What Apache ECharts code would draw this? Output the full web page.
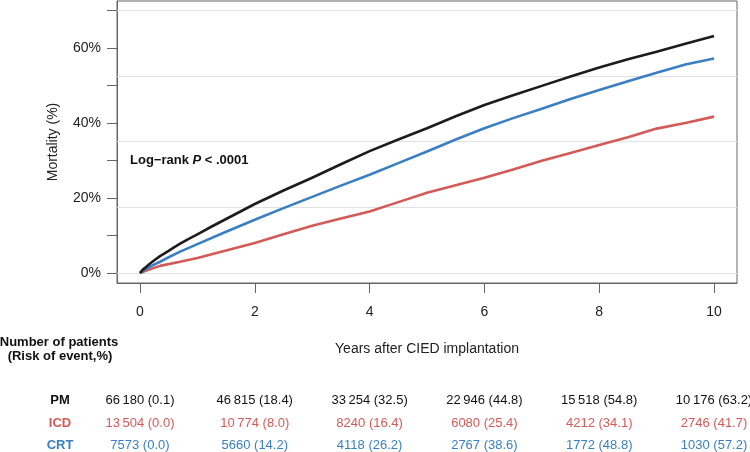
<!DOCTYPE html>
<html>
<head>
<meta charset="utf-8">
<script src="https://cdn.jsdelivr.net/npm/echarts@6/dist/echarts.min.js"></script>
<style>
    html, body { margin: 0; padding: 0; background: #fff; }
    #main { width: 750px; height: 452px; }
</style>
</head>
<body>
<div id="main"></div>
<script>
// 数据
let pmYears = [0, 0.05, 0.1, 0.15, 0.25, 0.35, 0.5, 0.6, 0.7, 0.85, 1, 1.25, 1.5, 2, 2.5, 3, 3.5, 4, 4.5, 5, 5.5, 6, 6.5, 7, 7.5, 8, 8.5, 9, 9.5, 10]
let pmRisk = [0, 0.9, 1.5, 2.2, 3.4, 4.5, 5.9, 6.9, 7.8, 9.1, 10.3, 12.4, 14.4, 18.4, 22.0, 25.4, 29.0, 32.5, 35.6, 38.6, 41.8, 44.8, 47.4, 49.9, 52.4, 54.8, 57.0, 59.0, 61.1, 63.2]
let crtYears = [0, 0.1, 0.2, 0.35, 0.5, 0.7, 1, 1.5, 2, 2.5, 3, 3.5, 4, 4.5, 5, 5.5, 6, 6.5, 7, 7.5, 8, 8.5, 9, 9.5, 10]
let crtRisk = [0, 1.0, 1.9, 3.0, 4.2, 5.7, 7.7, 11.0, 14.2, 17.3, 20.3, 23.3, 26.2, 29.3, 32.4, 35.6, 38.6, 41.3, 43.8, 46.4, 48.8, 51.1, 53.4, 55.6, 57.2]
let icdYears = [0, 0.1, 0.35, 0.7, 1, 1.5, 2, 2.5, 3, 3.5, 4, 4.5, 5, 5.5, 6, 6.5, 7, 7.5, 8, 8.5, 9, 9.5, 10]
let icdRisk = [0, 0.6, 1.9, 3.0, 4.0, 6.0, 8.0, 10.3, 12.6, 14.5, 16.4, 18.9, 21.4, 23.4, 25.4, 27.6, 29.9, 32.0, 34.1, 36.2, 38.5, 40.0, 41.7]

// 风险表
let tableYears = [0, 2, 4, 6, 8, 10]
let pmAtRisk = [66180, 46815, 33254, 22946, 15518, 10176]
let pmEvent = [0.1, 18.4, 32.5, 44.8, 54.8, 63.2]
let icdAtRisk = [13504, 10774, 8240, 6080, 4212, 2746]
let icdEvent = [0.0, 8.0, 16.4, 25.4, 34.1, 41.7]
let crtAtRisk = [7573, 5660, 4118, 2767, 1772, 1030]
let crtEvent = [0.0, 14.2, 26.2, 38.6, 48.8, 57.2]

// 坐标轴刻度
let xTicks = [0, 2, 4, 6, 8, 10]
let yTicks = [0, 10, 20, 30, 40, 50, 60, 70]
let yLabels = [0, 20, 40, 60]
let gridLines = [0, 17.5, 35, 52.5, 70]

let colorPM = '#1c1c1c'
let colorICD = '#d45a57'
let colorCRT = '#3a7fc1'
let fontFamily = '"Liberation Sans", Arial, Helvetica, sans-serif'

function pairs(xs, ys) {
    return xs.map(function (x, i) { return [x, ys[i]] })
}
function fmtCount(n) {
    let s = String(n)
    if (n >= 10000) {
        s = s.slice(0, s.length - 3) + '\u2009' + s.slice(s.length - 3)
    }
    return s
}

let chart = echarts.init(document.getElementById('main'))

let lineStyleBase = { width: 2.6, join: 'round' }
let option = {
    animation: false,
    backgroundColor: '#fff',
    textStyle: { fontFamily: fontFamily },
    grid: {
        left: 117, right: 13, top: 1, bottom: 169,
        show: true, borderColor: '#666', borderWidth: 1
    },
    xAxis: {
        type: 'value',
        min: -0.4, max: 10.4,
        axisLine: { show: true, onZero: false, lineStyle: { color: '#666', width: 1 } },
        axisTick: { show: true, length: 10, customValues: xTicks, lineStyle: { color: '#666' } },
        axisLabel: { customValues: xTicks, margin: 22, fontSize: 14, color: '#222', fontFamily: fontFamily },
        splitLine: { show: false }
    },
    yAxis: {
        type: 'value',
        min: -2.67, max: 72.53,
        axisLine: { show: true, onZero: false, lineStyle: { color: '#666', width: 1 } },
        axisTick: { show: true, length: 10, customValues: yTicks, lineStyle: { color: '#666' } },
        axisLabel: {
            customValues: yLabels, margin: 16, fontSize: 14, color: '#222', fontFamily: fontFamily,
            formatter: function (v) { return v + '%' }
        },
        splitLine: { show: false }
    },
    series: [
        {
            // 网格线
            type: 'line', data: [], z: 1, silent: true,
            markLine: {
                silent: true, symbol: 'none', animation: false, z: 1,
                label: { show: false },
                lineStyle: { color: '#e2e2e2', width: 1, type: 'solid' },
                data: gridLines.map(function (v) { return { yAxis: v } })
            }
        },
        {
            name: 'ICD', type: 'line', z: 6, showSymbol: false,
            data: pairs(icdYears, icdRisk),
            lineStyle: Object.assign({ color: colorICD }, lineStyleBase)
        },
        {
            name: 'CRT', type: 'line', z: 6, showSymbol: false,
            data: pairs(crtYears, crtRisk),
            lineStyle: Object.assign({ color: colorCRT }, lineStyleBase)
        },
        {
            name: 'PM', type: 'line', z: 7, showSymbol: false,
            data: pairs(pmYears, pmRisk),
            lineStyle: Object.assign({ color: colorPM }, lineStyleBase)
        }
    ]
}
chart.setOption(option)

// 文本与风险表
let elements = [
    {
        type: 'text', x: 427, y: 349,
        style: { text: 'Years after CIED implantation', fill: '#222', font: '14px ' + fontFamily, textAlign: 'center', textVerticalAlign: 'middle' }
    },
    {
        type: 'text', x: 53, y: 142, rotation: Math.PI / 2,
        style: { text: 'Mortality (%)', fill: '#222', font: '14px ' + fontFamily, textAlign: 'center', textVerticalAlign: 'middle' }
    },
    {
        type: 'text', x: 130, y: 160,
        style: {
            text: '{b|Log\u2212rank }{i|P}{b| < .0001}',
            textVerticalAlign: 'middle',
            rich: {
                b: { fontSize: 13, fontWeight: 'bold', fill: '#111', fontFamily: fontFamily },
                i: { fontSize: 13, fontWeight: 'bold', fontStyle: 'italic', fill: '#111', fontFamily: fontFamily }
            }
        }
    },
    {
        type: 'text', x: 59, y: 342,
        style: { text: 'Number of patients', fill: '#111', font: 'bold 13px ' + fontFamily, textAlign: 'center', textVerticalAlign: 'middle' }
    },
    {
        type: 'text', x: 60, y: 356,
        style: { text: '(Risk of event,%)', fill: '#111', font: 'bold 13px ' + fontFamily, textAlign: 'center', textVerticalAlign: 'middle' }
    }
]

let rows = [
    { name: 'PM', color: '#111', y: 400, counts: pmAtRisk, risks: pmEvent },
    { name: 'ICD', color: colorICD, y: 423, counts: icdAtRisk, risks: icdEvent },
    { name: 'CRT', color: colorCRT, y: 445, counts: crtAtRisk, risks: crtEvent }
]
rows.forEach(function (row) {
    elements.push({
        type: 'text', x: 60, y: row.y,
        style: { text: row.name, fill: row.color, font: 'bold 13px ' + fontFamily, textAlign: 'center', textVerticalAlign: 'middle' }
    })
    tableYears.forEach(function (yr, i) {
        let px = chart.convertToPixel({ xAxisIndex: 0 }, yr)
        elements.push({
            type: 'text', x: px, y: row.y,
            style: {
                text: fmtCount(row.counts[i]) + ' (' + row.risks[i].toFixed(1) + ')',
                fill: row.color, font: '13px ' + fontFamily, textAlign: 'center', textVerticalAlign: 'middle'
            }
        })
    })
})

chart.setOption({ graphic: { elements: elements } })
</script>
</body>
</html>
